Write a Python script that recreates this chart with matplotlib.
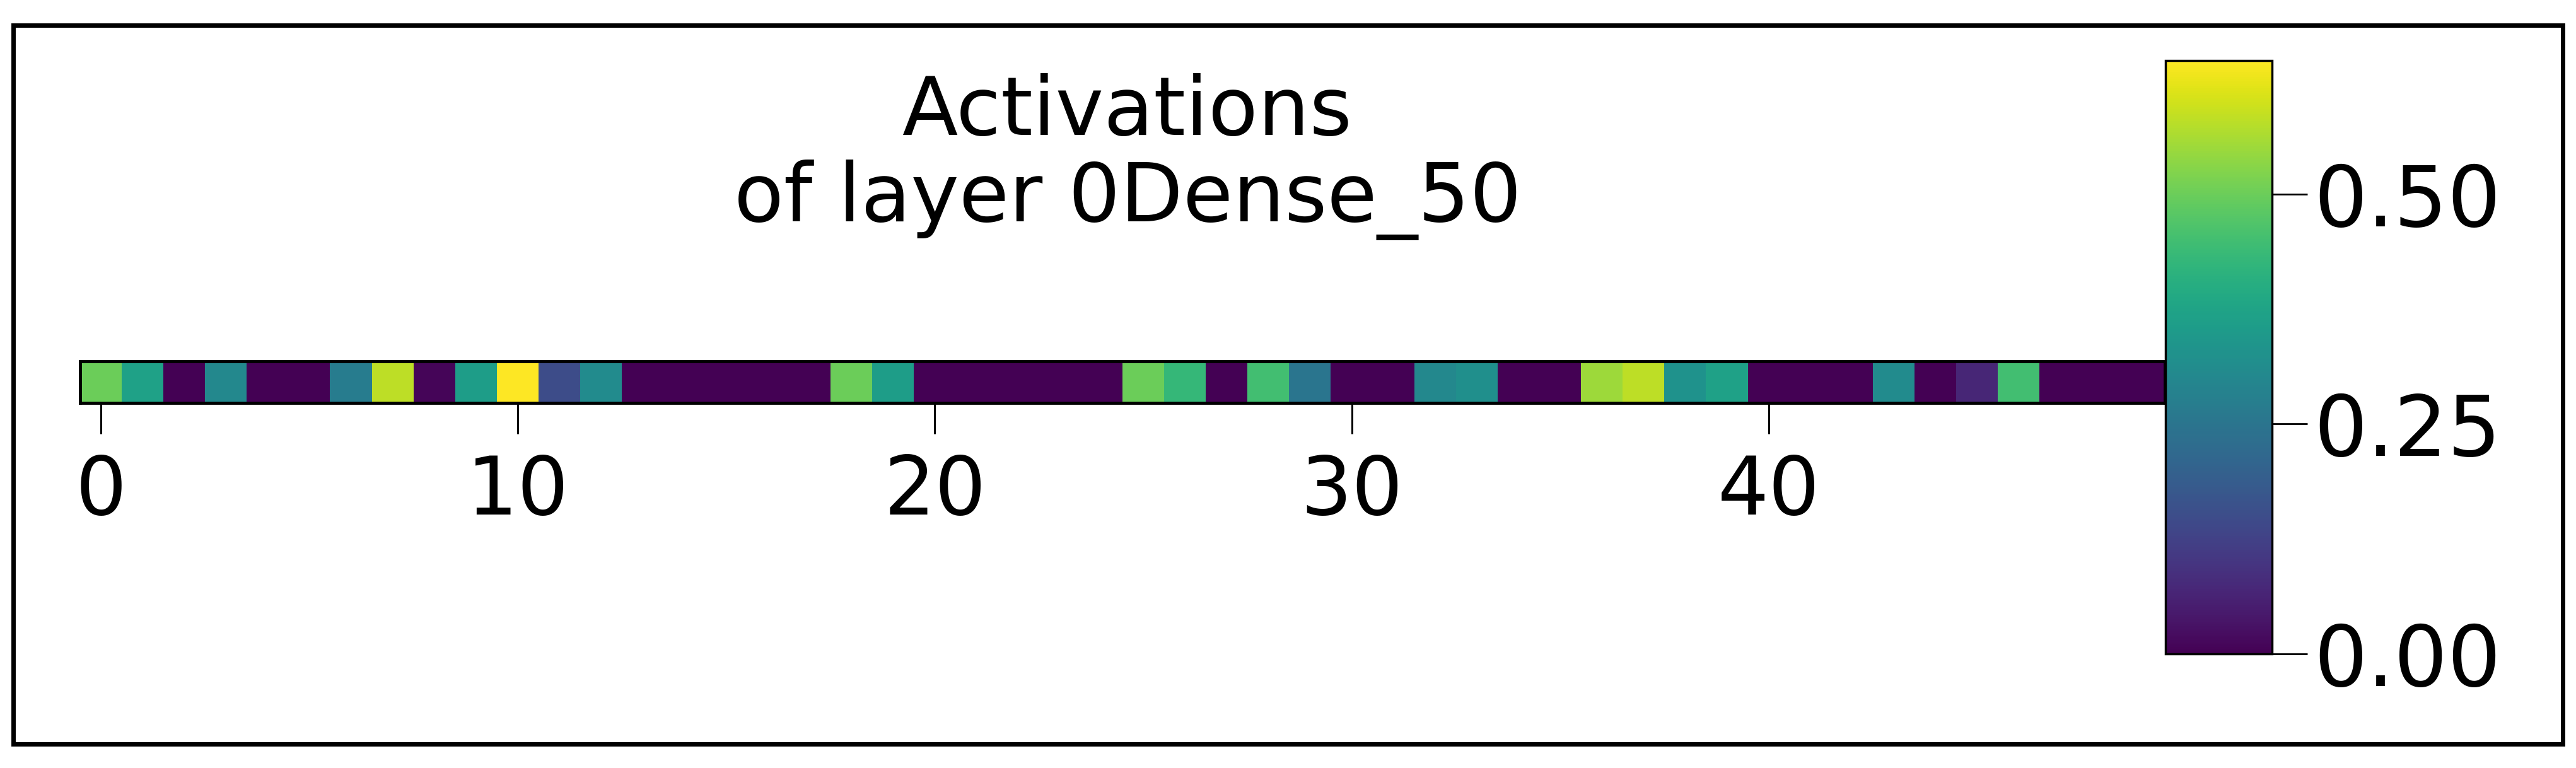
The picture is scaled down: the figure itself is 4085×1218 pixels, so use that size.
import numpy as np
import matplotlib
matplotlib.use("Agg")
from matplotlib import pyplot as plt
from matplotlib.patches import Rectangle

# activations of the 50 units
activations = [0.50, 0.37, 0.00, 0.30, 0.00, 0.00, 0.27, 0.58, 0.01, 0.36,
               0.645, 0.15, 0.31, 0.00, 0.00, 0.00, 0.00, 0.00, 0.50, 0.36,
               0.00, 0.00, 0.00, 0.00, 0.00, 0.50, 0.43, 0.00, 0.45, 0.25,
               0.00, 0.00, 0.30, 0.32, 0.00, 0.00, 0.55, 0.58, 0.33, 0.37,
               0.00, 0.00, 0.00, 0.31, 0.00, 0.07, 0.45, 0.00, 0.00, 0.00]
x_ticks = [0, 10, 20, 30, 40]
cbar_ticks = [0.0, 0.25, 0.5]
title = "Activations\nof layer 0Dense_50"

W, H = 4085, 1218
fig = plt.figure(figsize=(W / 100, H / 100), dpi=100)

def box(x0, y0, x1, y1):
    # pixel box -> figure fraction
    return [x0 / W, 1 - y1 / H, (x1 - x0) / W, (y1 - y0) / H]

ax = fig.add_axes(box(127, 573, 3433, 639))
im = ax.imshow(np.array(activations)[None, :], cmap="viridis", aspect="auto",
               vmin=0, vmax=max(activations))
ax.set_yticks([])
ax.set_xticks(x_ticks)
ax.tick_params(axis="x", labelsize=92, length=35, width=2.2, pad=22)
for s in ax.spines.values():
    s.set_linewidth(3.5)

cax = fig.add_axes(box(3434, 96, 3603, 1037))
cb = fig.colorbar(im, cax=cax, ticks=cbar_ticks)
cb.ax.tick_params(labelsize=96, length=40, width=2.0, pad=8)
cb.outline.set_linewidth(2.5)

fig.text((127 + 3433) / 2 / W + 0.002, 1 - 381 / H, title, ha="center", va="bottom",
         multialignment="center", fontsize=93, linespacing=1.12)

# outer frame
fig.patches.append(Rectangle((21 / W, 1 - 1180 / H), (4064 - 21) / W, (1180 - 40) / H,
                             transform=fig.transFigure, fill=False,
                             edgecolor="black", linewidth=5))

fig.savefig("out.png", dpi=100)
